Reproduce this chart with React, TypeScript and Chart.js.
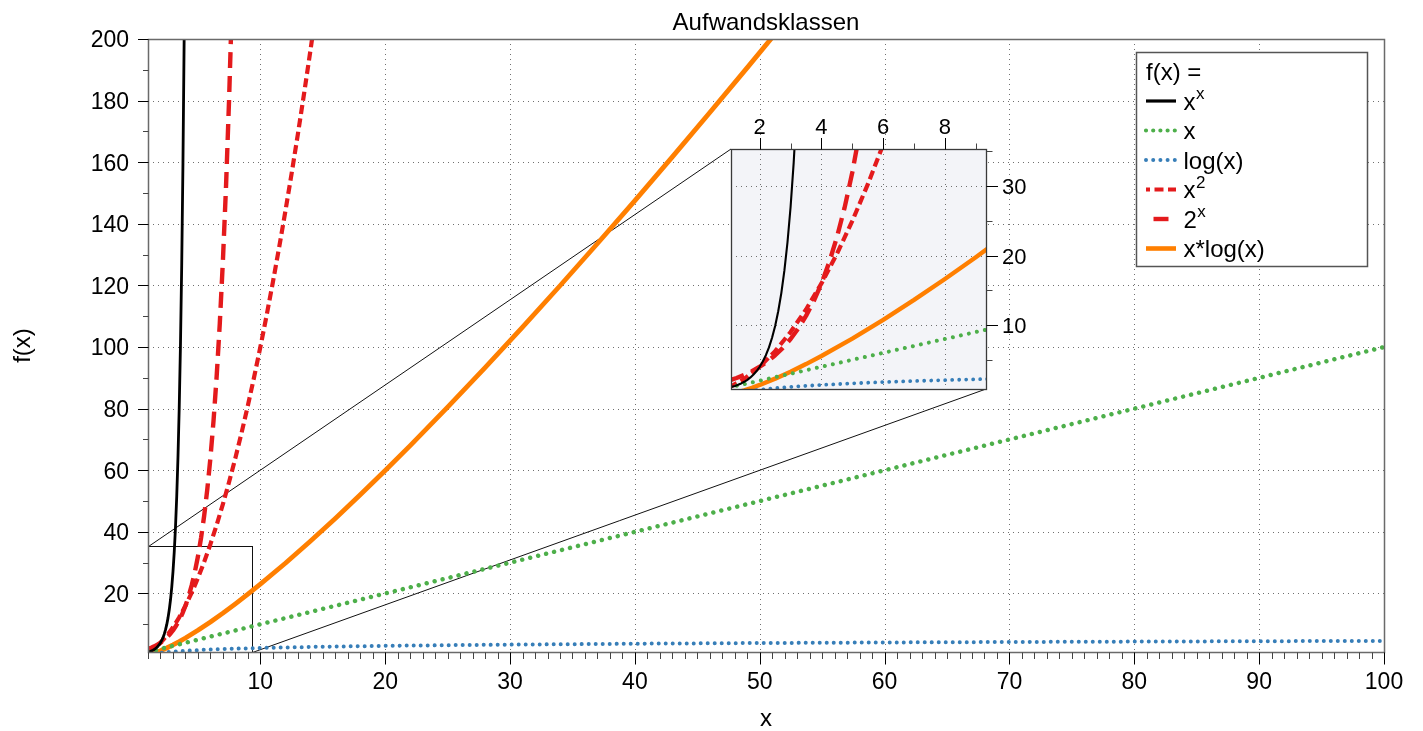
import React, { useEffect, useRef } from "react";
import { Chart, registerables } from "chart.js";

Chart.register(...registerables);

const FONT = "'Liberation Sans', 'Helvetica Neue', Arial, sans-serif";

// ---------- texts ----------
const TITLE = "Aufwandsklassen";
const X_TITLE = "x";
const Y_TITLE = "f(x)";
const LEGEND_TITLE = "f(x) =";

// ---------- axes ----------
const X_TICKS = [10, 20, 30, 40, 50, 60, 70, 80, 90, 100];
const Y_TICKS = [20, 40, 60, 80, 100, 120, 140, 160, 180, 200];
const X_RANGE = [1, 100];
const Y_RANGE = [1, 200];
const INSET_X_TICKS = [2, 4, 6, 8];
const INSET_Y_TICKS = [10, 20, 30];
const INSET_X_RANGE = [1.07, 9.33];
const INSET_Y_RANGE = [0.8, 35.35];
const ZOOM_X = [1, 9.33];
const ZOOM_Y = [1, 35.3];

// ---------- data ----------
const powXX_X = [1, 1.1, 1.2, 1.3, 1.4, 1.5, 1.6, 1.7, 1.8, 1.9, 2, 2.1, 2.2, 2.3, 2.4, 2.5, 2.6, 2.7, 2.8, 2.9, 3, 3.1, 3.2, 3.3, 3.4, 3.5, 3.6, 3.7, 3.8, 3.9, 4];
const powXX_Y = [1, 1.1105, 1.2446, 1.4065, 1.6017, 1.8371, 2.1213, 2.4647, 2.8807, 3.3856, 4, 4.75, 5.6667, 6.7917, 8.1753, 9.8821, 11.993, 14.612, 17.866, 21.925, 27, 33.36, 41.35, 51.42, 64.13, 80.21, 100.62, 126.58, 159.67, 201.9, 256];

const lin_X = [1, 100];
const lin_Y = [1, 100];

const log_X = [1, 1.5, 2, 2.5, 3, 4, 5, 6, 7, 8, 9, 10, 12, 15, 20, 25, 30, 40, 50, 60, 70, 80, 90, 100];
const log_Y = [0, 0.4055, 0.6931, 0.9163, 1.0986, 1.3863, 1.6094, 1.7918, 1.9459, 2.0794, 2.1972, 2.3026, 2.4849, 2.7081, 2.9957, 3.2189, 3.4012, 3.6889, 3.912, 4.0943, 4.2485, 4.382, 4.4998, 4.6052];

const sq_X = [1, 1.5, 2, 2.5, 3, 3.5, 4, 4.5, 5, 5.5, 6, 6.5, 7, 7.5, 8, 8.5, 9, 9.5, 10, 10.5, 11, 11.5, 12, 12.5, 13, 13.5, 14, 14.5, 15];
const sq_Y = [1, 2.25, 4, 6.25, 9, 12.25, 16, 20.25, 25, 30.25, 36, 42.25, 49, 56.25, 64, 72.25, 81, 90.25, 100, 110.25, 121, 132.25, 144, 156.25, 169, 182.25, 196, 210.25, 225];

const exp_X = [1, 1.25, 1.5, 1.75, 2, 2.25, 2.5, 2.75, 3, 3.25, 3.5, 3.75, 4, 4.25, 4.5, 4.75, 5, 5.25, 5.5, 5.75, 6, 6.25, 6.5, 6.75, 7, 7.25, 7.5, 7.75, 8];
const exp_Y = [2, 2.3784, 2.8284, 3.3636, 4, 4.7568, 5.6569, 6.7272, 8, 9.5137, 11.3137, 13.4543, 16, 19.0273, 22.6274, 26.9087, 32, 38.0546, 45.2548, 53.8174, 64, 76.1093, 90.5097, 107.6347, 128, 152.2185, 181.0193, 215.2695, 256];

const xlog_X = [1, 1.25, 1.5, 1.75, 2, 2.5, 3, 3.5, 4, 5, 6, 7, 8, 9, 10, 12, 14, 16, 18, 20, 22, 25, 28, 31, 34, 37, 40, 43, 46, 49, 52];
const xlog_Y = [0, 0.2789, 0.6082, 0.9793, 1.3863, 2.2907, 3.2958, 4.3847, 5.5452, 8.0472, 10.7506, 13.6214, 16.6355, 19.775, 23.0259, 29.8189, 36.9468, 44.3614, 52.0267, 59.9146, 68.0029, 80.4719, 93.3017, 106.4536, 119.8963, 133.6039, 147.5552, 161.7318, 176.1175, 190.699, 205.4645];

// ---------- series styles ----------
type Series = {
  base: string; sup: string; xs: number[]; ys: number[]; color: string;
  width: number; insetWidth: number; dash: number[]; cap: CanvasLineCap;
  legendWidth: number; legendDash: number[]; legendOffset: number;
};

const SERIES: Series[] = [
  { base: "x", sup: "x", xs: powXX_X, ys: powXX_Y, color: "#000000", width: 2.8, insetWidth: 2.1, dash: [], cap: "butt", legendWidth: 3.2, legendDash: [], legendOffset: 0 },
  { base: "x", sup: "", xs: lin_X, ys: lin_Y, color: "#4daf4a", width: 4.5, insetWidth: 4, dash: [0.001, 8.2], cap: "round", legendWidth: 4.2, legendDash: [0.001, 7.2], legendOffset: 0 },
  { base: "log(x)", sup: "", xs: log_X, ys: log_Y, color: "#377eb8", width: 4, insetWidth: 3.8, dash: [0.001, 7], cap: "round", legendWidth: 4, legendDash: [0.001, 7.2], legendOffset: 0 },
  { base: "x", sup: "2", xs: sq_X, ys: sq_Y, color: "#e41a1c", width: 4.2, insetWidth: 4.2, dash: [9, 4.5], cap: "butt", legendWidth: 4.2, legendDash: [9, 4.5], legendOffset: 5 },
  { base: "2", sup: "x", xs: exp_X, ys: exp_Y, color: "#e41a1c", width: 4.4, insetWidth: 4.4, dash: [16, 8], cap: "butt", legendWidth: 4.4, legendDash: [15, 7.5], legendOffset: 15 },
  { base: "x*log(x)", sup: "", xs: xlog_X, ys: xlog_Y, color: "#ff7f00", width: 4.8, insetWidth: 4.4, dash: [], cap: "butt", legendWidth: 4.6, legendDash: [], legendOffset: 0 },
];

// ---------- layout ----------
const W = 1423;
const H = 731;
const PAD = { top: 39, right: 39 };
const Y_AXIS_W = 148;
const X_AXIS_H = 79;
const INSET_CANVAS = { left: 700, top: 100, width: 340, height: 300 };
const INSET_PAD = { left: 31, bottom: 11 };
const INSET_TOP_AXIS_H = 49;
const INSET_RIGHT_AXIS_W = 54;
const INSET_AREA = { left: 731, top: 149, right: 986, bottom: 389 };
const LEGEND_BOX = { left: 1136.5, top: 52.5, width: 231, height: 214 };

const toPts = (xs: number[], ys: number[]) => xs.map((x, i) => ({ x, y: ys[i] }));

function seg(ctx: CanvasRenderingContext2D, x1: number, y1: number, x2: number, y2: number) {
  ctx.beginPath();
  ctx.moveTo(x1, y1);
  ctx.lineTo(x2, y2);
  ctx.stroke();
}

function drawLegend(ctx: CanvasRenderingContext2D) {
  const b = LEGEND_BOX;
  ctx.save();
  ctx.fillStyle = "#ffffff";
  ctx.fillRect(b.left, b.top, b.width, b.height);
  ctx.strokeStyle = "#555555";
  ctx.lineWidth = 1.5;
  ctx.strokeRect(b.left, b.top, b.width, b.height);
  ctx.fillStyle = "#000000";
  ctx.textAlign = "left";
  ctx.textBaseline = "alphabetic";
  ctx.font = `24px ${FONT}`;
  ctx.fillText(LEGEND_TITLE, b.left + 9.5, b.top + 27.5);
  SERIES.forEach((s, i) => {
    const base = b.top + 57 + i * 29.5;
    const yl = base - 8.5;
    ctx.save();
    ctx.strokeStyle = s.color;
    ctx.lineWidth = s.legendWidth;
    ctx.lineCap = s.cap;
    ctx.setLineDash(s.legendDash);
    ctx.lineDashOffset = s.legendOffset;
    seg(ctx, b.left + 9.5, yl, b.left + 39.5, yl);
    ctx.restore();
    ctx.font = `24px ${FONT}`;
    const tx = b.left + 47;
    ctx.fillText(s.base, tx, base);
    if (s.sup) {
      const w = ctx.measureText(s.base).width;
      ctx.font = `17px ${FONT}`;
      ctx.fillText(s.sup, tx + w + 0.5, base - 10.5);
    }
  });
  ctx.restore();
}

const mainDecor = {
  id: "mainDecor",
  beforeDatasetsDraw(chart: any) {
    const { ctx, chartArea: a, scales } = chart;
    const xs = scales.x;
    const ys = scales.y;
    ctx.save();
    ctx.strokeStyle = "#707070";
    ctx.lineWidth = 1;
    ctx.setLineDash([1, 4]);
    X_TICKS.forEach((v) => {
      if (v >= X_RANGE[1]) return;
      const p = Math.round(xs.getPixelForValue(v)) + 0.5;
      seg(ctx, p, a.top, p, a.bottom);
    });
    Y_TICKS.forEach((v) => {
      if (v >= Y_RANGE[1]) return;
      const p = Math.round(ys.getPixelForValue(v)) + 0.5;
      seg(ctx, a.left, p, a.right, p);
    });
    ctx.setLineDash([]);
    const zl = Math.round(xs.getPixelForValue(ZOOM_X[0])) + 0.5;
    const zr = Math.round(xs.getPixelForValue(ZOOM_X[1])) + 0.5;
    const zt = Math.round(ys.getPixelForValue(ZOOM_Y[1])) + 0.5;
    const zb = Math.round(ys.getPixelForValue(ZOOM_Y[0])) + 0.5;
    ctx.strokeStyle = "#111111";
    ctx.lineWidth = 1;
    ctx.strokeRect(zl, zt, zr - zl, zb - zt);
    seg(ctx, zl, zt, INSET_AREA.left, INSET_AREA.top);
    seg(ctx, zr, zb, INSET_AREA.right, INSET_AREA.bottom);
    ctx.restore();
  },
  afterDraw(chart: any) {
    const { ctx, chartArea: a, scales } = chart;
    const xs = scales.x;
    const ys = scales.y;
    const L = Math.round(a.left) + 0.5;
    const R = Math.round(a.right) + 0.5;
    const T = Math.round(a.top) + 0.5;
    const B = Math.round(a.bottom) + 0.5;
    ctx.save();
    // frame
    ctx.lineWidth = 1.5;
    ctx.strokeStyle = "#6a6a6a";
    ctx.strokeRect(L, T, R - L, B - T);
    // x ticks
    ctx.lineWidth = 1;
    for (let v = Math.ceil(X_RANGE[0]); v <= X_RANGE[1]; v++) {
      const major = X_TICKS.includes(v);
      const p = Math.round(xs.getPixelForValue(v)) + 0.5;
      ctx.strokeStyle = major ? "#000000" : "#444444";
      seg(ctx, p, B, p, B + (major ? 12 : 6.5));
    }
    // y ticks
    for (let v = 10; v <= Y_RANGE[1]; v += 10) {
      const major = Y_TICKS.includes(v);
      const p = Math.round(ys.getPixelForValue(v)) + 0.5;
      ctx.strokeStyle = major ? "#000000" : "#444444";
      seg(ctx, L - (major ? 10.5 : 5.5), p, L, p);
    }
    // tick labels
    ctx.fillStyle = "#000000";
    ctx.font = `23px ${FONT}`;
    ctx.textBaseline = "alphabetic";
    ctx.textAlign = "center";
    X_TICKS.forEach((v) => ctx.fillText(String(v), xs.getPixelForValue(v), a.bottom + 36.5));
    ctx.textAlign = "right";
    Y_TICKS.forEach((v) => ctx.fillText(String(v), a.left - 19, ys.getPixelForValue(v) + 8.3));
    // titles
    ctx.font = `24px ${FONT}`;
    ctx.textAlign = "center";
    const cx = (a.left + a.right) / 2;
    ctx.fillText(TITLE, cx, a.top - 9);
    ctx.fillText(X_TITLE, cx, a.bottom + 73.5);
    ctx.save();
    ctx.translate(30, (a.top + a.bottom) / 2);
    ctx.rotate(-Math.PI / 2);
    ctx.fillText(Y_TITLE, 0, 0);
    ctx.restore();
    ctx.restore();
    drawLegend(ctx);
  },
};

const insetDecor = {
  id: "insetDecor",
  beforeDraw(chart: any) {
    const { ctx, chartArea: a } = chart;
    ctx.save();
    ctx.fillStyle = "#f3f4f8";
    ctx.fillRect(a.left, a.top, a.right - a.left, a.bottom - a.top);
    ctx.restore();
  },
  beforeDatasetsDraw(chart: any) {
    const { ctx, chartArea: a, scales } = chart;
    ctx.save();
    ctx.strokeStyle = "#707070";
    ctx.lineWidth = 1;
    ctx.setLineDash([1, 4]);
    INSET_X_TICKS.forEach((v) => {
      const p = Math.round(scales.x.getPixelForValue(v)) + 0.5;
      seg(ctx, p, a.top, p, a.bottom);
    });
    INSET_Y_TICKS.forEach((v) => {
      const p = Math.round(scales.y.getPixelForValue(v)) + 0.5;
      seg(ctx, a.left, p, a.right, p);
    });
    ctx.restore();
  },
  afterDraw(chart: any) {
    const { ctx, chartArea: a, scales } = chart;
    const xs = scales.x;
    const ys = scales.y;
    const L = Math.round(a.left) + 0.5;
    const R = Math.round(a.right) + 0.5;
    const T = Math.round(a.top) + 0.5;
    const B = Math.round(a.bottom) + 0.5;
    ctx.save();
    ctx.lineWidth = 1.3;
    ctx.strokeStyle = "#3a3a3a";
    ctx.strokeRect(L, T, R - L, B - T);
    ctx.lineWidth = 1;
    for (let v = Math.ceil(INSET_X_RANGE[0]); v <= INSET_X_RANGE[1]; v++) {
      const major = INSET_X_TICKS.includes(v);
      const p = Math.round(xs.getPixelForValue(v)) + 0.5;
      ctx.strokeStyle = major ? "#000000" : "#444444";
      seg(ctx, p, T, p, T - (major ? 11.5 : 6));
    }
    for (let v = 5; v <= INSET_Y_RANGE[1]; v += 5) {
      const major = INSET_Y_TICKS.includes(v);
      const p = Math.round(ys.getPixelForValue(v)) + 0.5;
      ctx.strokeStyle = major ? "#000000" : "#444444";
      seg(ctx, R, p, R + (major ? 11.5 : 6), p);
    }
    ctx.fillStyle = "#000000";
    ctx.font = `22px ${FONT}`;
    ctx.textBaseline = "alphabetic";
    ctx.textAlign = "center";
    INSET_X_TICKS.forEach((v) => ctx.fillText(String(v), xs.getPixelForValue(v), a.top - 15));
    ctx.textAlign = "left";
    INSET_Y_TICKS.forEach((v) => ctx.fillText(String(v), a.right + 16, ys.getPixelForValue(v) + 8));
    ctx.restore();
  },
};

function makeDatasets(inset: boolean) {
  return SERIES.map((s) => ({
    data: toPts(s.xs, s.ys),
    showLine: true,
    borderColor: s.color,
    backgroundColor: s.color,
    borderWidth: inset ? s.insetWidth : s.width,
    borderDash: s.dash,
    borderCapStyle: s.cap,
    borderJoinStyle: "round" as const,
    pointRadius: 0,
    pointHoverRadius: 0,
    tension: 0,
    clip: 0,
  }));
}

function hiddenScale(extra: any) {
  return {
    type: "linear" as const,
    ticks: { display: false },
    grid: { display: false, drawTicks: false },
    border: { display: false },
    title: { display: false },
    ...extra,
  };
}

export default function App() {
  const mainRef = useRef<HTMLCanvasElement | null>(null);
  const insetRef = useRef<HTMLCanvasElement | null>(null);

  useEffect(() => {
    if (!mainRef.current || !insetRef.current) return;
    const main = new Chart(mainRef.current, {
      type: "scatter",
      data: { datasets: makeDatasets(false) as any },
      options: {
        responsive: false,
        animation: false,
        events: [],
        layout: { padding: { top: PAD.top, right: PAD.right, left: 0, bottom: 0 } },
        plugins: { legend: { display: false }, title: { display: false }, tooltip: { enabled: false } },
        scales: {
          x: hiddenScale({ position: "bottom", min: X_RANGE[0], max: X_RANGE[1], afterFit: (s: any) => { s.height = X_AXIS_H; } }),
          y: hiddenScale({ position: "left", min: Y_RANGE[0], max: Y_RANGE[1], afterFit: (s: any) => { s.width = Y_AXIS_W; } }),
        },
      } as any,
      plugins: [mainDecor],
    });
    const inset = new Chart(insetRef.current, {
      type: "scatter",
      data: { datasets: makeDatasets(true) as any },
      options: {
        responsive: false,
        animation: false,
        events: [],
        layout: { padding: { top: 0, right: 0, left: INSET_PAD.left, bottom: INSET_PAD.bottom } },
        plugins: { legend: { display: false }, title: { display: false }, tooltip: { enabled: false } },
        scales: {
          x: hiddenScale({ position: "top", min: INSET_X_RANGE[0], max: INSET_X_RANGE[1], afterFit: (s: any) => { s.height = INSET_TOP_AXIS_H; } }),
          y: hiddenScale({ position: "right", min: INSET_Y_RANGE[0], max: INSET_Y_RANGE[1], afterFit: (s: any) => { s.width = INSET_RIGHT_AXIS_W; } }),
        },
      } as any,
      plugins: [insetDecor],
    });
    return () => {
      main.destroy();
      inset.destroy();
    };
  }, []);

  return (
    <div style={{ position: "fixed", left: 0, top: 0, width: W, height: H, background: "#ffffff", overflow: "hidden" }}>
      <canvas ref={mainRef} width={W} height={H} style={{ position: "absolute", left: 0, top: 0, width: W, height: H }} />
      <canvas
        ref={insetRef}
        width={INSET_CANVAS.width}
        height={INSET_CANVAS.height}
        style={{ position: "absolute", left: INSET_CANVAS.left, top: INSET_CANVAS.top, width: INSET_CANVAS.width, height: INSET_CANVAS.height }}
      />
    </div>
  );
}
